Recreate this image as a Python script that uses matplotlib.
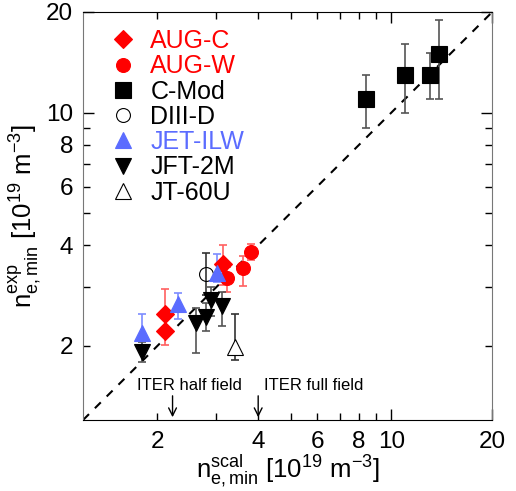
import matplotlib
matplotlib.use("Agg")
import matplotlib.pyplot as plt
from matplotlib.ticker import FixedLocator, FixedFormatter

plt.rcParams['font.family'] = ['Liberation Sans', 'DejaVu Sans']
plt.rcParams['mathtext.fontset'] = 'custom'
plt.rcParams['mathtext.rm'] = 'Liberation Sans'
plt.rcParams['mathtext.it'] = 'Liberation Sans:italic'

aug_c_x = [2.11, 2.11, 3.14]
aug_c_y = [2.49, 2.21, 3.53]
aug_c_lo = [2.25, 2.01, 3.05]
aug_c_hi = [2.97, 2.45, 4.00]

aug_w_x = [3.22, 3.61, 3.81]
aug_w_y = [3.20, 3.42, 3.83]
aug_w_lo = [2.91, 3.02, 3.62]
aug_w_hi = [3.45, 3.71, 4.03]

cmod_x = [8.41, 10.99, 13.05, 13.88]
cmod_y = [10.98, 12.96, 12.96, 14.98]
cmod_lo = [9.01, 9.99, 10.98, 10.98]
cmod_hi = [12.96, 16.0, 15.05, 18.9]

d3d_x = [2.80]
d3d_y = [3.28]
d3d_lo = [2.85]
d3d_hi = [3.79]

jet_x = [1.80, 2.31, 3.01]
jet_y = [2.18, 2.67, 3.30]
jet_lo = [1.95, 2.40, 3.11]
jet_hi = [2.49, 2.89, 3.78]

jft_x = [1.80, 2.61, 2.80, 2.89, 3.11]
jft_y = [1.92, 2.34, 2.44, 2.74, 2.63]
jft_lo = [1.79, 1.90, 2.21, 2.45, 2.29]
jft_hi = [2.05, 2.59, 2.68, 3.00, 2.91]

jt60_x = [3.41]
jt60_y = [1.99]
jt60_lo = [1.81]
jt60_hi = [2.49]

red = '#ff0000'
blue = '#5b6cff'

fig = plt.figure(figsize=(5.16, 4.91), dpi=100)
ax = fig.add_axes([0.161, 0.1446, 0.793, 0.831])
ax.set_xscale('log')
ax.set_yscale('log')
ax.set_xlim(1.2, 20)
ax.set_ylim(1.2, 20)

ax.plot([1.2, 20], [1.2, 20], color='black', lw=1.5, ls=(0, (4, 4)), zorder=1)

groups = [
    (aug_c_x, aug_c_y, aug_c_lo, aug_c_hi, 'D', red, red, '#ff6060', 9, 'AUG-C'),
    (aug_w_x, aug_w_y, aug_w_lo, aug_w_hi, 'o', red, red, '#ff6060', 10, 'AUG-W'),
    (cmod_x, cmod_y, cmod_lo, cmod_hi, 's', 'black', 'black', '#555555', 11, 'C-Mod'),
    (d3d_x, d3d_y, d3d_lo, d3d_hi, 'o', 'none', 'black', '#333333', 10, 'DIII-D'),
    (jet_x, jet_y, jet_lo, jet_hi, '^', blue, blue, '#7d8cff', 11, 'JET-ILW'),
    (jft_x, jft_y, jft_lo, jft_hi, 'v', 'black', 'black', '#555555', 11, 'JFT-2M'),
    (jt60_x, jt60_y, jt60_lo, jt60_hi, '^', 'white', 'black', '#333333', 11, 'JT-60U'),
]

handles = []
for x, y, lo, hi, mk, fc, ec, errc, ms, name in groups:
    yerr = [[yy - l for yy, l in zip(y, lo)], [h - yy for yy, h in zip(y, hi)]]
    ax.errorbar(x, y, yerr=yerr, fmt='none', ecolor=errc, elinewidth=1.2,
                capsize=3, capthick=1.2, zorder=2)
    h, = ax.plot(x, y, ls='none', marker=mk, ms=ms, mfc=fc, mec=ec, mew=0.8,
                 zorder=3, label=name)
    handles.append(h)

leg = ax.legend(handles=handles, loc='upper left', bbox_to_anchor=(0.03, 0.995),
                frameon=False, fontsize=18, handletextpad=0.6, labelspacing=0.05,
                handlelength=1.0, borderaxespad=0.2)
text_colors = [red, red, 'black', 'black', blue, 'black', 'black']
for t, c in zip(leg.get_texts(), text_colors):
    t.set_color(c)

# ITER markers
ax.annotate('', xy=(2.22, 1.2), xytext=(2.22, 1.445),
            arrowprops=dict(arrowstyle='->', lw=1, color='black', mutation_scale=14))
ax.annotate('', xy=(4.0, 1.2), xytext=(4.0, 1.445),
            arrowprops=dict(arrowstyle='->', lw=1, color='black', mutation_scale=14))
ax.text(2.50, 1.476, 'ITER half field', fontsize=12, ha='center', va='baseline')
ax.text(4.17, 1.476, 'ITER full field', fontsize=12, ha='left', va='baseline')

# ticks
for axis in (ax.xaxis, ax.yaxis):
    axis.set_major_locator(FixedLocator([10, 20]))
    axis.set_major_formatter(FixedFormatter(['10', '20']))
    axis.set_minor_locator(FixedLocator([2, 3, 4, 5, 6, 7, 8, 9]))
    axis.set_minor_formatter(FixedFormatter(['2', '', '4', '', '6', '', '8', '']))

ax.tick_params(which='both', direction='in', top=True, right=True, labelsize=17.5)
ax.tick_params(which='major', length=8, width=1)
ax.tick_params(which='minor', length=5, width=1)
ax.tick_params(axis='x', which='both', pad=8)
ax.tick_params(axis='y', which='both', pad=7)

for s in ('left', 'right'):
    ax.spines[s].set_color('#777777')
ax.spines['top'].set_color('black')
ax.spines['bottom'].set_color('black')

ax.set_xlabel(r'$\mathregular{n^{scal}_{e,min}}$ [10$^{19}$ m$^{-3}$]', fontsize=18.5, labelpad=0)
ax.set_ylabel(r'$\mathregular{n^{exp}_{e,min}}$ [10$^{19}$ m$^{-3}$]', fontsize=18.5, labelpad=2)

fig.savefig('out.png', dpi=100)
